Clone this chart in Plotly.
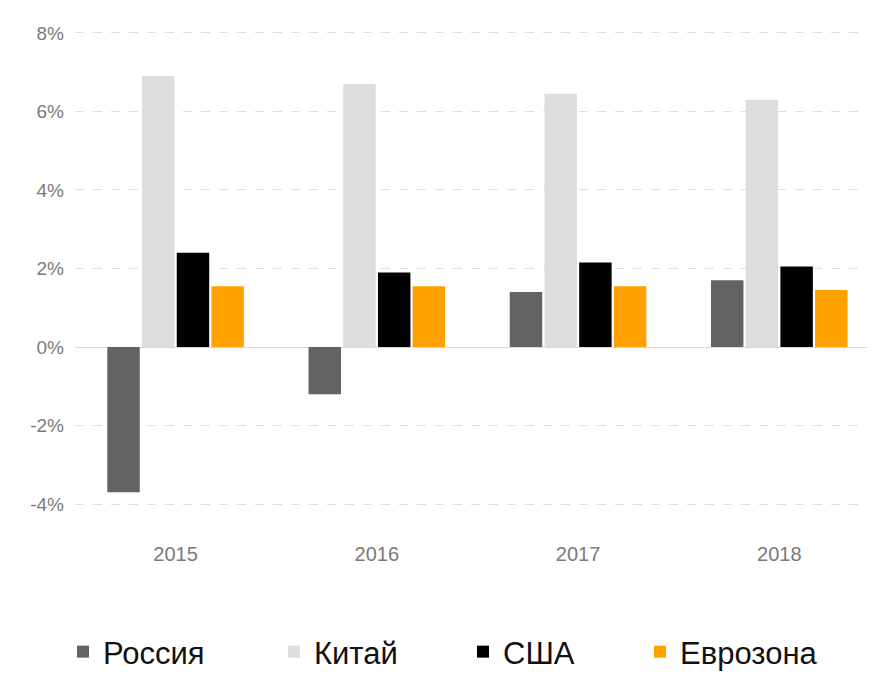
import plotly.graph_objects as go

years = ["2015", "2016", "2017", "2018"]
russia = [-3.7, -1.2, 1.4, 1.7]
china = [6.9, 6.7, 6.45, 6.3]
usa = [2.4, 1.9, 2.15, 2.05]
eurozone = [1.55, 1.55, 1.55, 1.45]

y_tick_vals = [-4, -2, 0, 2, 4, 6, 8]
y_tick_text = ["-4%", "-2%", "0%", "2%", "4%", "6%", "8%"]

series = [
    ("Россия", russia, "#636363"),
    ("Китай", china, "#dedede"),
    ("США", usa, "#000000"),
    ("Еврозона", eurozone, "#ffa200"),
]
legend_ids = ["legend", "legend2", "legend3", "legend4"]
legend_x = [55, 266, 455, 632]  # figure pixels of each legend entry

# page body has an 8px margin, so the figure is sized to fit inside the window
W, H = 859, 669

fig = go.Figure()
for (name, vals, col), lid in zip(series, legend_ids):
    fig.add_trace(go.Bar(
        x=years, y=vals, name=name, legend=lid,
        marker=dict(color=col, line=dict(width=0)),
    ))

layout_legends = {}
for lid, lx in zip(legend_ids, legend_x):
    layout_legends[lid] = dict(
        orientation="h", xref="container", yref="container",
        x=lx / W, xanchor="left", y=1 - 644 / H, yanchor="middle",
        font=dict(size=31, color="#111111"),
        itemwidth=30, bgcolor="rgba(0,0,0,0)", borderwidth=0,
    )

fig.update_layout(
    width=W, height=H,
    margin=dict(l=67, r=0, t=21, b=169, autoexpand=False),
    paper_bgcolor="white", plot_bgcolor="white",
    barmode="group", bargap=0.31, bargroupgap=0.065,
    font=dict(family="Liberation Sans, Arial, sans-serif"),
    showlegend=True,
    **layout_legends,
)
fig.update_yaxes(
    range=[-4.1, 8.1], tickvals=y_tick_vals, ticktext=y_tick_text,
    showgrid=True, gridcolor="#dfdfdf", griddash="dash", gridwidth=1,
    zeroline=True, zerolinecolor="#d9d9d9", zerolinewidth=1,
    tickfont=dict(size=19, color="#7a7a7a"),
    ticklabelstandoff=10, showline=False,
)
fig.update_xaxes(
    range=[-0.5, 3.436],
    showgrid=False, showline=False,
    tickfont=dict(size=20, color="#7a7a7a"),
    ticklabelstandoff=32,
)

fig.write_html("out.html")
